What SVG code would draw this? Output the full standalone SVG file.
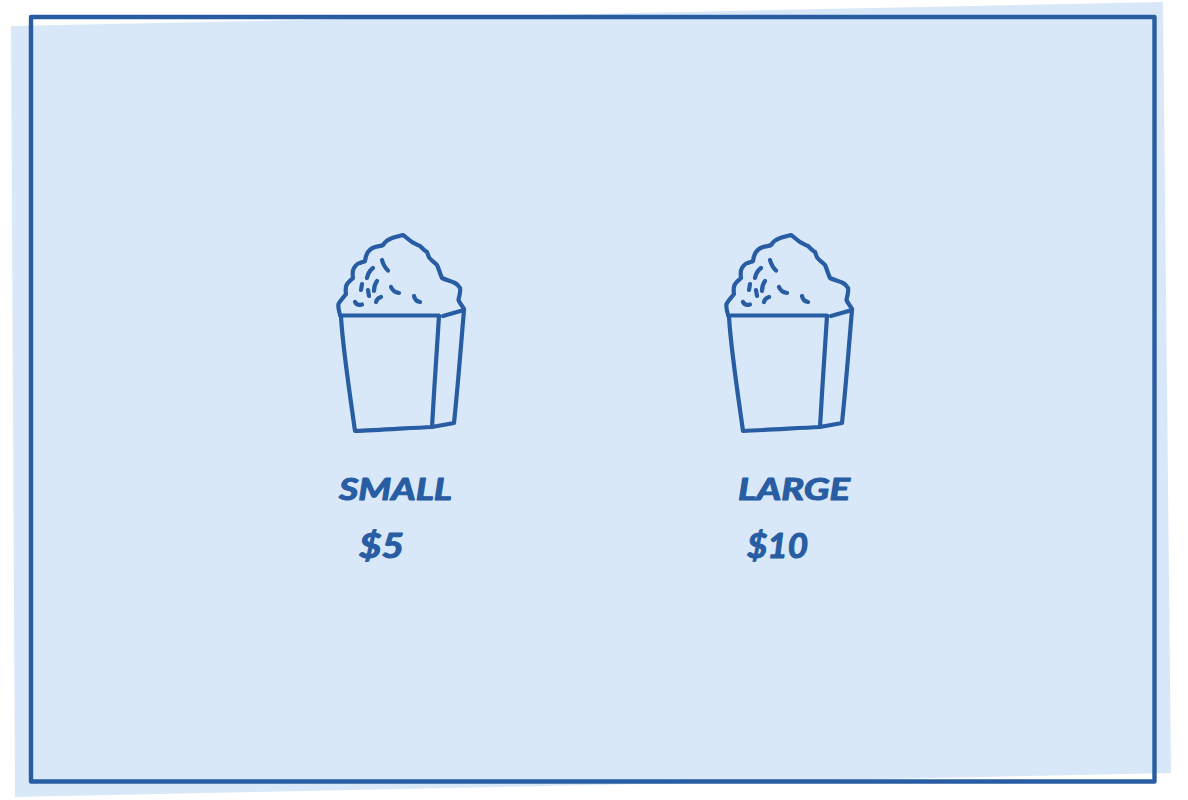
<svg xmlns="http://www.w3.org/2000/svg" width="1188" height="800" viewBox="0 0 1188 800">
<style>
.line{fill:none;stroke:#285da4;stroke-linecap:round;stroke-linejoin:round}
.s{stroke-width:4.2}
.lbl{font-family:"Lato","Liberation Sans",sans-serif;font-style:italic;font-weight:700;fill:#285da4;stroke:#285da4;stroke-width:1.1;stroke-linejoin:round}
</style>
<defs>
<g id="tub">
<path class="line s" d="M339.500 313C338.500 309 338 306 338.500 304C340 301 343 298 346 294C345.500 291 345.500 288 346.500 285C348 282 351 280 353 278C352.500 274 352.500 270 354 268C356 265 358 263 360 263C362 262 364 262 365 261C365.500 257 366 255 368 252C370 249 372 248 375 247C378 246 381 246 383 245C385 242 387 240 390 239C394 237 399 236 403 235C406 237 409 240 412 242C415 244 418 245 420 246C423 249 425 251 427 252C428 254 428 256 429.500 258C432 261 435 263 437 265C439 269 440 274 442 278C446 280 451 281 455 283C457 284 459 286 460 288C461 292 459 296 458.500 300C459.500 303 462 305 464 309"/>
<path class="line s" d="M340 315.500L439 315.500M341 317C343 350 350 395 355 431C380 430 410 428 432 427C434 390 437 350 439 316M432 427L454 423C458 385 461 345 464 310L443 316"/>
<path class="line s" d="M382 260Q384 267 388 270.500M373 268Q368 272 367 278M377 281Q374 285 374 291M362 284L361 290M368 290L369 296M381 297Q377 298 376 302M391 287Q393 292 399 293M414 296Q415 301 420 302M355 302Q357 306 362 304.500"/>
</g>
</defs>
<rect width="1188" height="800" fill="#ffffff"/>
<g id="background"><path d="M11 26L1163 2L1171 773L15 797Z" fill="#d9e8f8"/></g>
<g id="frame"><path class="line" d="M31 17L1154.500 17L1154.500 781.500L31 781.500Z" style="stroke-width:4.400"/></g>
<g id="small">
<use href="#tub"/>
<text class="lbl" x="339" y="500" font-size="31" textLength="113" lengthAdjust="spacingAndGlyphs">SMALL</text>
<text class="lbl" x="359" y="558" font-size="34" textLength="45" lengthAdjust="spacingAndGlyphs">$5</text>
</g>
<g id="large">
<use href="#tub" x="388"/>
<text class="lbl" x="738" y="500" font-size="31" textLength="112" lengthAdjust="spacingAndGlyphs">LARGE</text>
<text class="lbl" x="747" y="558" font-size="34" textLength="61" lengthAdjust="spacingAndGlyphs">$10</text>
</g>
</svg>
